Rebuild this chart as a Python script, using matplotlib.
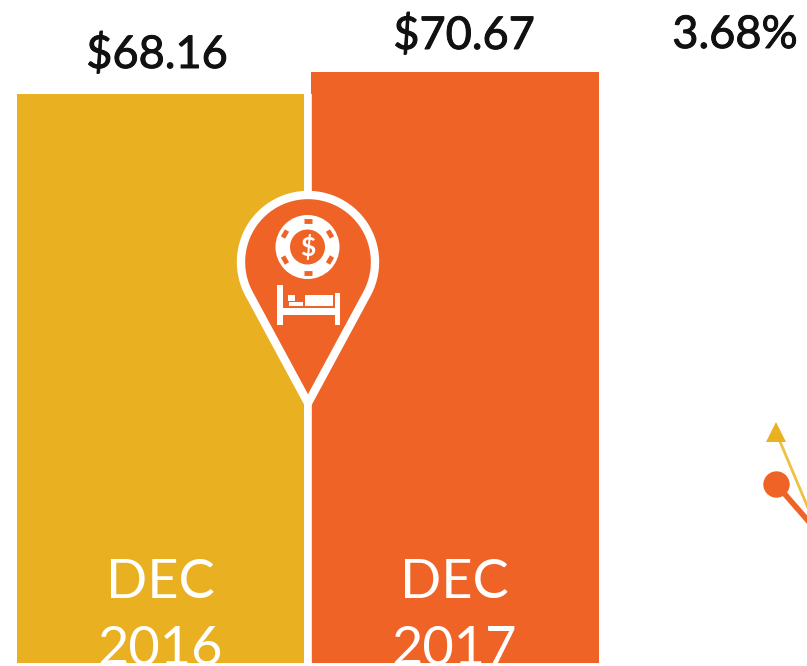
import numpy as np
import matplotlib
matplotlib.use("Agg")
import matplotlib.pyplot as plt
import matplotlib.patheffects as pe
from matplotlib.patches import Polygon, Circle, Rectangle

plt.rcParams["font.family"] = ["Lato", "DejaVu Sans"]

# Values
periods = ["DEC\n2016", "DEC\n2017"]
rates = [68.16, 70.67]
rate_labels = ["$68.16", "$70.67"]
change_label = "3.68%"
bar_colors = ["#E9B121", "#EF6327"]

# Cut off line chart at the right edge (only its first points are visible)
line_x = [776, 830]
yellow_line_y = [432, 560]
orange_line_y = [484, 546]

W, H = 807, 666
PX_PER_DOLLAR = 22 / (rates[1] - rates[0])
BASE_VALUE = rates[0] - (663 - 94) / PX_PER_DOLLAR

fig = plt.figure(figsize=(W / 100, H / 100), dpi=100)

# Bars in data units
ax = fig.add_axes([0, 0, 1, 1])
step = 294.5
ax.bar(range(len(rates)), [v - BASE_VALUE for v in rates], bottom=BASE_VALUE,
       width=287.5 / step, color=bar_colors, linewidth=0)
ax.set_xlim(-160.5 / step, (W - 160.5) / step)
ax.set_ylim(BASE_VALUE - (H - 663) / PX_PER_DOLLAR, BASE_VALUE + 663 / PX_PER_DOLLAR)
ax.axis("off")

# Overlay in picture pixels for labels and the pin
ov = fig.add_axes([0, 0, 1, 1], facecolor="none")
ov.set_xlim(0, W)
ov.set_ylim(H, 0)
ov.axis("off")

label_style = dict(ha="center", va="baseline", fontsize=32.5, color="#111111",
                   path_effects=[pe.withStroke(linewidth=0.7, foreground="#111111")])
ov.text(157, 68, rate_labels[0], **label_style)
ov.text(464, 49, rate_labels[1], **label_style)
ov.text(735, 48, change_label, **label_style)

for cx, label in zip([160, 454], periods):
    top, bottom = label.split("\n")
    ov.text(cx, 598, top, ha="center", va="baseline", fontsize=39, color="white")
    ov.text(cx, 665, bottom, ha="center", va="baseline", fontsize=39, color="white")

# White gap line runs behind the pin
ov.plot([307.5, 307.5], [94, 663], color="white", lw=5.5, solid_capstyle="butt", zorder=2)

# Pin outline: circle with straight tangents down to the tip
cx, cy, r, tip_y = 308, 262, 67, 403
half = np.arccos(r / (tip_y - cy))
angles = np.linspace(np.pi / 2 + half, 2.5 * np.pi - half, 120)
outline = np.column_stack([cx + r * np.cos(angles), cy + r * np.sin(angles)])
outline = np.vstack([[cx, tip_y], outline])
ov.add_patch(Polygon(outline, closed=True, facecolor=bar_colors[1], edgecolor="white",
                     lw=6, joinstyle="miter", zorder=4))

# Casino chip
chip_x, chip_y = 307.5, 247
ov.add_patch(Circle((chip_x, chip_y), 32, color="white", lw=0, zorder=5))
ov.add_patch(Circle((chip_x, chip_y), 17.5, color=bar_colors[1], lw=0, zorder=6))
for deg in [90, 150, 210, 270, 330, 30]:
    a = np.radians(deg)
    ux, uy = np.cos(a), np.sin(a)
    ov.plot([chip_x + 26 * ux - 4 * uy, chip_x + 26 * ux + 4 * uy],
            [chip_y + 26 * uy + 4 * ux, chip_y + 26 * uy - 4 * ux],
            color=bar_colors[1], lw=3.5, solid_capstyle="butt", zorder=6)
ov.text(chip_x, chip_y, "$", ha="center", va="center", fontsize=19, fontweight="bold",
        color="white", zorder=7)

# Bed
bed = [
    (277, 285, 6, 40),
    (335, 293, 5, 32),
    (277, 308, 63, 7),
    (305, 295, 28, 11),
    (289, 302, 14, 4),
    (288, 295, 7, 6),
]
for x, y, w, h in bed:
    ov.add_patch(Rectangle((x, y), w, h, color="white", lw=0, zorder=5))

# Fragment of the line chart
ov.plot(line_x, yellow_line_y, color="#F0C040", lw=2, zorder=2)
ov.plot(line_x, orange_line_y, color=bar_colors[1], lw=4, zorder=2)
ov.plot(line_x[0], yellow_line_y[0], marker="^", ms=15, color=bar_colors[0], mew=0, zorder=3)
ov.plot(line_x[0], orange_line_y[0], marker="o", ms=19, color=bar_colors[1], mew=0, zorder=3)

fig.savefig("out.png", dpi=100)
